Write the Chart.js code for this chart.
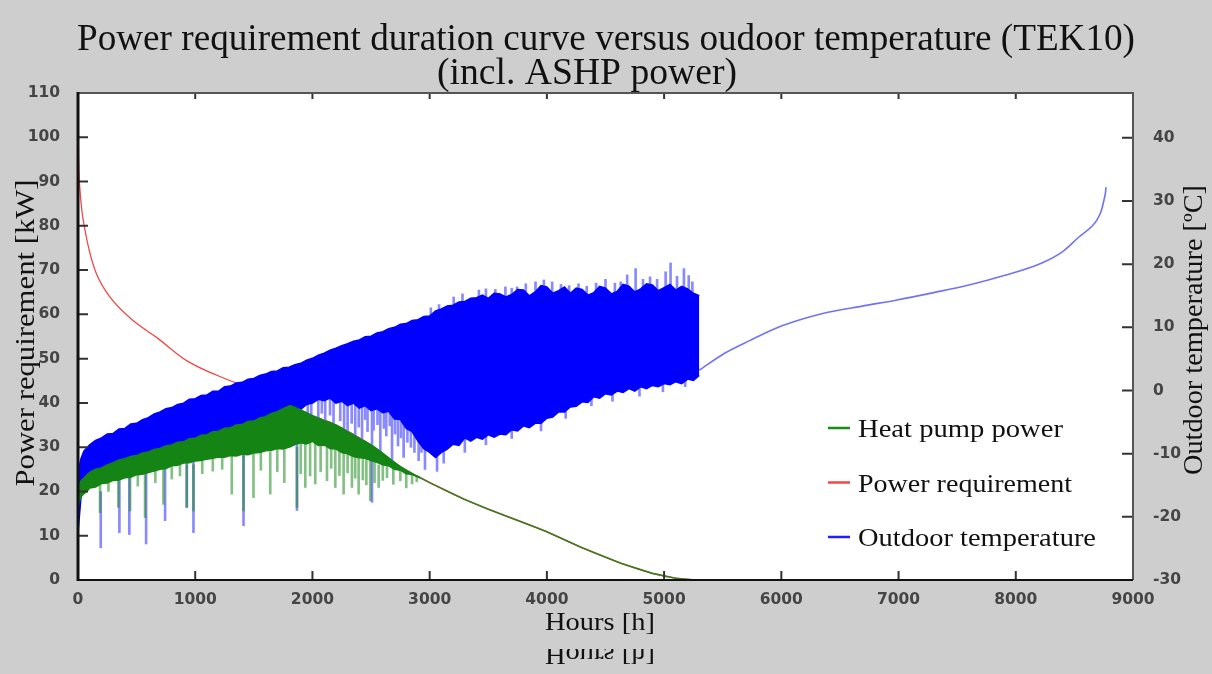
<!DOCTYPE html>
<html>
<head>
<meta charset="utf-8">
<script src="https://cdn.jsdelivr.net/npm/chart.js@4.4.0/dist/chart.umd.min.js"></script>
<style>
  html, body { margin: 0; padding: 0; background: #cecece; }
  #wrap { width: 1212px; height: 674px; position: relative; }
</style>
</head>
<body>
<div id="wrap"><canvas id="chart"></canvas></div>
<script>
// ---- data ----
const xTicks = [0, 1000, 2000, 3000, 4000, 5000, 6000, 7000, 8000, 9000];
const kwTicks = [0, 10, 20, 30, 40, 50, 60, 70, 80, 90, 100, 110];
const tempTicks = [-30, -20, -10, 0, 10, 20, 30, 40];

// power requirement duration curve [kW]
const reqHours = [0, 3, 8, 17, 35, 60, 100, 160, 270, 470, 670, 930, 1300, 1600, 1810, 2000, 2180, 2500, 2750, 2920, 3000, 3290, 3500, 3990, 4300, 4630, 4900, 5100, 5260];
const reqPower = [107, 98, 92, 88, 83, 79, 74, 69, 64, 58.6, 54.8, 49.5, 45, 42, 39.4, 37.1, 35.3, 30.5, 25.6, 23.1, 22.0, 18.3, 16.0, 11.0, 7.3, 3.8, 1.5, 0.4, 0];

// outdoor temperature, noisy part: upper / lower edge of the dense band [°C]
const tempHours = [0, 25, 50, 100, 150, 200, 250, 300, 350, 400, 450, 500, 550, 600, 650, 700, 750, 800, 850, 900, 950,
  1000, 1050, 1100, 1150, 1200, 1250, 1300, 1350, 1400, 1450, 1500, 1550, 1600, 1650, 1700, 1750, 1800, 1850, 1900, 1950,
  2000, 2050, 2100, 2150, 2200, 2250, 2300, 2350, 2400, 2450, 2500, 2550, 2600, 2650, 2700, 2750, 2800, 2850, 2900, 2950,
  3000, 3050, 3100, 3150, 3200, 3250, 3300, 3350, 3400, 3450, 3500, 3550, 3600, 3650, 3700, 3750, 3800, 3850, 3900, 3950,
  4000, 4050, 4100, 4150, 4200, 4250, 4300, 4350, 4400, 4450, 4500, 4550, 4600, 4650, 4700, 4750, 4800, 4850, 4900, 4950,
  5000, 5050, 5100, 5150, 5200, 5250, 5300];
const tempHigh = [-13, -10.8, -9.6, -8.6, -7.9, -7.5, -6.9, -6.8, -6.1, -6.0, -5.3, -5.2, -4.6, -4.3, -3.7, -3.4, -2.9, -2.7, -2.2, -2.0, -1.4,
  -1.3, -0.8, -0.7, -0.1, -0.1, 0.6, 0.7, 1.2, 1.3, 1.8, 1.9, 2.4, 2.6, 3.0, 3.1, 3.6, 3.7, 4.1, 4.3, 4.8,
  5.1, 5.6, 5.9, 6.4, 6.7, 7.1, 7.4, 7.8, 8.0, 8.5, 8.6, 9.1, 9.3, 9.8, 10.0, 10.5, 10.6, 11.1, 11.2, 11.7,
  11.8, 12.6, 12.9, 13.4, 13.5, 14.0, 14.1, 14.6, 14.7, 15.1, 14.6, 15.4, 15.3, 14.8, 15.2, 16.0, 15.9, 15.0, 15.6, 16.6,
  16.4, 15.4, 15.8, 16.4, 15.4, 16.2, 16.0, 15.1, 15.5, 16.5, 16.2, 15.3, 15.7, 16.8, 16.5, 15.6, 16.1, 16.9, 16.7, 15.8,
  16.3, 16.8, 15.9, 16.5, 16.1, 15.4, 15.0];
const tempLow = [-22.5, -17, -15.5, -14, -13.8, -13.5, -13.2, -13, -12.8, -12.5, -12.2, -12, -11.8, -11.5, -11.2, -11, -10.8, -10.5, -10.2, -10, -9.9,
  -9.8, -9.6, -9.5, -9.2, -9, -8.8, -8.6, -8.3, -8, -7.8, -7.5, -7.2, -7, -6.5, -6, -5.5, -5, -4, -3.0, -2.2,
  -2.0, -1.4, -1.6, -1.2, -2.0, -1.7, -2.4, -2.0, -2.8, -2.4, -3.2, -2.9, -3.5, -3.3, -4.5, -4.6, -6.0, -6.5, -8.0, -9.2,
  -9.8, -10.6, -9.8, -9.3, -8.5, -8.7, -7.5, -8.0, -7.4, -7.7, -7.0, -7.4, -6.9, -7.0, -6.2, -6.4, -5.6, -5.9, -5.2, -5.2,
  -4.4, -4.2, -3.4, -3.4, -2.6, -2.5, -1.8, -1.9, -1.0, -1.2, -0.5, -0.7, -0.1, -0.3, 0.3, -0.1, 0.6, 0.3, 0.8, 0.6,
  1.1, 0.9, 1.4, 1.1, 1.8, 1.6, 2.4];
// single light spikes [hour, low, high] [°C]
const tempSpikes = [
  [194, -24.9, -16], [353, -22.5, -14], [438, -22.8, -13], [581, -24.3, -12], [743, -20.6, -11],
  [928, -18.5, -10], [985, -22.5, -10], [1412, -21.4, -8], [1868, -19, -4],
  [1960, -4.8, -1.5], [1990, -6.0, -1.5], [2050, -4.5, -1.5], [2080, -3.6, -1.2], [2109, -5.5, -1.5], [2150, -3.9, -1.2],
  [2180, -6.8, -1.5], [2237, -4.8, -1.8], [2270, -6.1, -1.8], [2300, -8.5, -2], [2335, -5.2, -2], [2365, -7.4, -2.2],
  [2395, -5.8, -2.2], [2423, -9.5, -2.5], [2450, -4.6, -2.4], [2470, -6.5, -2.5], [2508, -17.7, -3], [2522, -6.3, -2.8],
  [2555, -5.4, -2.8], [2579, -9.8, -3], [2610, -6.0, -3], [2630, -7.2, -3], [2660, -5.6, -3.2], [2679, -11.0, -3.5],
  [2705, -6.9, -4], [2730, -8.8, -4], [2755, -7.5, -4.5], [2778, -10.6, -5], [2810, -8.2, -5.5], [2840, -9.0, -5.5],
  [2870, -9.8, -6.5], [2906, -11.1, -7], [2930, -9.8, -8], [2960, -12.5, -8], [3063, -12.8, -9], [3120, -11.5, -9],
  [3010, 9.5, 13.1], [3080, 10.5, 13.6], [3205, 12, 14.8], [3280, 12, 15.3], [3420, 13, 15.9], [3480, 13, 16.1],
  [3560, 13, 16.0], [3646, 14, 16.4], [3700, 13, 16.2], [3746, 14, 16.4], [3820, 14, 16.9], [3903, 14.5, 17.2],
  [3974, 15, 17.5], [4045, 15, 17.2], [4120, 14, 16.8], [4190, 14, 16.6], [4270, 14, 16.9], [4340, 14, 16.5],
  [4420, 14, 17.0], [4500, 15, 17.6], [4580, 14, 17.0], [4630, 14, 17.2], [4685, 15, 18.3], [4757, 15.5, 19.3],
  [4820, 15, 17.6], [4880, 15, 18.0], [4940, 15, 17.6], [5013, 15.5, 18.8], [5055, 15.5, 20.2], [5110, 15, 18.1],
  [5169, 15, 19.3], [5210, 15, 18.2], [5241, 14, 17.2],
  [3300, -9.8, -6], [3480, -8.6, -5], [3700, -7.6, -5], [3950, -6.4, -4], [4160, -4.4, -2.5], [4380, -2.4, -0.5],
  [4560, -1.7, 0], [4790, -0.9, 1], [4990, -0.2, 1.5], [5180, 0.6, 2]
];
// outdoor temperature, smooth part
const tempSmoothHours = [5300, 5516, 5730, 6000, 6353, 6700, 6977, 7300, 7600, 7900, 8223, 8400, 8539, 8650, 8693, 8730, 8753, 8765, 8770];
const tempSmooth = [3.2, 5.9, 7.9, 10.2, 12.2, 13.4, 14.3, 15.5, 16.7, 18.2, 20.2, 22.0, 24.3, 26.0, 27.0, 28.5, 30.2, 31.3, 32.2];

// heat pump power, noisy part: upper / lower edge of the band [kW]
const hpHours = [0, 10, 25, 50, 75, 100, 150, 200, 250, 300, 350, 400, 450, 500, 550, 600, 650, 700, 750, 800, 850, 900, 950,
  1000, 1050, 1100, 1150, 1200, 1250, 1300, 1350, 1400, 1450, 1500, 1550, 1600, 1650, 1700, 1750, 1810, 1850, 1900, 1950,
  2000, 2050, 2100, 2150, 2200, 2250, 2300, 2350, 2400, 2450, 2500, 2550, 2600, 2650, 2700, 2750, 2800, 2850, 2920];
const hpHigh = [20.1, 21.5, 22.4, 23.0, 23.7, 24.3, 25.0, 25.3, 26.0, 26.5, 27.1, 27.4, 27.9, 28.1, 28.7, 28.9, 29.5, 29.7, 30.3, 30.5, 31.1, 31.2, 31.9,
  32.0, 32.7, 32.8, 33.5, 33.6, 34.3, 34.4, 35.0, 35.1, 35.8, 35.9, 36.6, 36.9, 37.6, 38.0, 38.7, 39.4, 39.0, 38.4, 37.8,
  37.1, 36.6, 36.0, 35.6, 35.0, 34.3, 33.5, 32.8, 32.0, 31.3, 30.5, 29.6, 28.6, 27.6, 26.6, 25.6, 24.8, 24.0, 23.1];
const hpLow = [16.4, 17.5, 18.8, 19.5, 20.0, 20.8, 21.0, 21.8, 21.9, 22.5, 22.6, 23.1, 23.2, 23.8, 23.9, 24.3, 24.6, 25.0, 25.2, 25.8, 25.9, 26.4, 26.5,
  26.9, 27.0, 27.3, 27.5, 27.8, 27.7, 28.1, 28.0, 28.4, 28.3, 28.7, 28.8, 29.2, 29.3, 29.7, 29.6, 30.1, 30.6, 31.0, 30.7,
  31.3, 30.4, 30.5, 29.7, 29.6, 28.8, 28.5, 27.9, 27.6, 27.5, 27.0, 26.6, 26.0, 25.8, 25.0, 24.8, 24.0, 23.8, 23.1];
const hpSpikes = [
  [188, 15.2, 22], [260, 20.0, 23], [344, 16.4, 23], [444, 15.6, 23], [510, 21.2, 24], [572, 14.1, 24], [660, 22.0, 25],
  [729, 17.1, 25], [800, 22.8, 26], [870, 23.5, 26], [928, 16.4, 26], [985, 15.6, 26], [1060, 24.0, 27], [1150, 24.6, 27.5],
  [1230, 25.0, 28], [1312, 19.4, 28], [1412, 15.6, 28], [1497, 18.6, 28.5], [1560, 24.8, 29], [1640, 19.4, 29], [1700, 24.5, 29.5],
  [1760, 22.0, 30], [1868, 16.4, 30], [1900, 24.0, 31], [1939, 20.9, 31], [1980, 23.5, 31], [2024, 21.7, 31], [2070, 24.5, 30.5],
  [2124, 22.4, 30], [2160, 25.2, 30], [2195, 20.9, 29.5], [2230, 23.6, 29.5], [2266, 19.4, 29], [2300, 24.2, 29],
  [2337, 20.9, 28.5], [2365, 23.0, 28], [2394, 19.4, 27.5], [2430, 22.6, 27.5], [2460, 21.5, 27.5], [2494, 17.9, 27],
  [2530, 22.0, 27], [2565, 20.9, 26], [2600, 22.5, 26], [2636, 23.1, 26], [2690, 21.6, 25.5], [2750, 22.4, 25],
  [2800, 20.8, 24.5], [2850, 21.7, 24], [2890, 22.2, 23.5]
];
// heat pump power once it covers the whole demand
const hpTailHours = [2920, 3000, 3290, 3500, 3990, 4300, 4630, 4900, 5100, 5260];
const hpTail = [23.1, 22.0, 18.3, 16.0, 11.0, 7.3, 3.8, 1.5, 0.4, 0];

const legendItems = [
  { label: 'Heat pump power', color: '#1a8c1a', width: 205 },
  { label: 'Power requirement', color: '#f04848', width: 214 },
  { label: 'Outdoor temperature', color: '#2020ff', width: 238 }
];

// ---- helpers ----
function pts(xs, ys) { return xs.map((x, i) => ({ x: x, y: ys[i] })); }
function bars(list) { return list.map(s => ({ x: s[0], y: [s[1], s[2]] })); }

function fitText(ctx, text, x, y, width, font, align) {
  ctx.save();
  ctx.font = font;
  const w = ctx.measureText(text).width;
  ctx.translate(x, y);
  ctx.scale(width / w, 1);
  ctx.textAlign = align || 'center';
  ctx.fillText(text, 0, 0);
  ctx.restore();
}

const decor = {
  id: 'decor',
  beforeDraw(chart) {
    const ctx = chart.ctx, a = chart.chartArea;
    ctx.save();
    ctx.fillStyle = '#cecece';
    ctx.fillRect(0, 0, chart.width, chart.height);
    ctx.fillStyle = '#ffffff';
    ctx.fillRect(a.left, a.top, a.right - a.left, a.bottom - a.top);
    ctx.restore();
  },
  afterDatasetsDraw(chart) {
    const ctx = chart.ctx, a = chart.chartArea;
    const xs = chart.scales.x, y = chart.scales.y, y2 = chart.scales.y2;
    ctx.save();
    // tick marks pointing inwards
    ctx.strokeStyle = '#333';
    ctx.lineWidth = 2;
    ctx.beginPath();
    kwTicks.forEach(v => {
      const py = y.getPixelForValue(v);
      ctx.moveTo(a.left, py); ctx.lineTo(a.left + 10, py);
    });
    tempTicks.forEach(v => {
      const py = y2.getPixelForValue(v);
      ctx.moveTo(a.right, py); ctx.lineTo(a.right - 11, py);
    });
    xTicks.forEach(v => {
      const px = xs.getPixelForValue(v);
      ctx.moveTo(px, a.bottom); ctx.lineTo(px, a.bottom - 9);
      ctx.moveTo(px, a.top); ctx.lineTo(px, a.top + 6);
    });
    ctx.stroke();
    // frame
    ctx.strokeStyle = '#555';
    ctx.lineWidth = 2;
    ctx.beginPath();
    ctx.moveTo(a.left, a.top); ctx.lineTo(a.right, a.top); ctx.lineTo(a.right, a.bottom);
    ctx.stroke();
    ctx.strokeStyle = '#111';
    ctx.beginPath();
    ctx.moveTo(a.left, a.bottom); ctx.lineTo(a.right, a.bottom);
    ctx.stroke();
    ctx.lineWidth = 3;
    ctx.beginPath();
    ctx.moveTo(a.left, a.top - 1); ctx.lineTo(a.left, a.bottom + 1);
    ctx.stroke();
    ctx.restore();
  },
  afterDraw(chart) {
    const ctx = chart.ctx;
    const serif = '"Liberation Serif", "DejaVu Serif", serif';
    ctx.save();
    ctx.fillStyle = '#111';
    ctx.textBaseline = 'alphabetic';
    fitText(ctx, 'Power requirement duration curve versus oudoor temperature (TEK10)', 606, 50, 1058, '38px ' + serif);
    fitText(ctx, '(incl. ASHP power)', 587, 84, 300, '38px ' + serif);
    fitText(ctx, 'Hours [h]', 600, 630, 110, '26px ' + serif);

    // axis titles, both read bottom to top
    ctx.textBaseline = 'middle';
    ctx.save();
    ctx.translate(27, 333); ctx.rotate(-Math.PI / 2);
    fitText(ctx, 'Power requirement [kW]', 0, 0, 307, '27px ' + serif);
    ctx.restore();
    ctx.save();
    ctx.translate(1195, 330); ctx.rotate(-Math.PI / 2);
    fitText(ctx, 'Outdoor temperature [\u00baC]', 0, 0, 290, '27px ' + serif);
    ctx.restore();

    // mirrored leftover of the axis title at the bottom
    ctx.save();
    ctx.beginPath(); ctx.rect(0, 649, chart.width, 30); ctx.clip();
    ctx.translate(0, 645); ctx.scale(1, -1);
    ctx.textBaseline = 'alphabetic';
    fitText(ctx, 'Hours [h]', 600, -2, 110, '26px ' + serif);
    ctx.restore();

    // legend
    legendItems.forEach((it, i) => {
      const cy = 428 + i * 54.5;
      ctx.strokeStyle = it.color;
      ctx.lineWidth = 2.5;
      ctx.beginPath(); ctx.moveTo(828, cy); ctx.lineTo(850, cy); ctx.stroke();
      ctx.fillStyle = '#111';
      ctx.textBaseline = 'alphabetic';
      fitText(ctx, it.label, 858, cy + 9, it.width, '25px ' + serif, 'left');
    });
    ctx.restore();
  }
};

const tickFont = { family: '"DejaVu Sans", sans-serif', size: 15.5, weight: 'bold' };

new Chart(document.getElementById('chart'), {
  type: 'line',
  data: {
    datasets: [
      { label: 'Power requirement', data: pts(reqHours, reqPower), yAxisID: 'y',
        borderColor: '#f04848', borderWidth: 1.3, cubicInterpolationMode: 'monotone', order: 7 },
      { label: 'temp spikes', type: 'bar', data: bars(tempSpikes), yAxisID: 'y2',
        backgroundColor: '#8a8aff', barThickness: 2, grouped: false, order: 6 },
      { label: 'Outdoor temperature', data: pts(tempHours, tempHigh), yAxisID: 'y2',
        borderColor: '#0000ff', backgroundColor: '#0000ff', borderWidth: 1.5, fill: '+1', order: 5 },
      { label: 'temp low', data: pts(tempHours, tempLow), yAxisID: 'y2',
        borderColor: '#0000ff', borderWidth: 1.5, order: 5 },
      { label: 'temp smooth', data: pts(tempSmoothHours, tempSmooth), yAxisID: 'y2',
        borderColor: '#7272f4', borderWidth: 1.6, cubicInterpolationMode: 'monotone', order: 5 },
      { label: 'hp spikes', type: 'bar', data: bars(hpSpikes), yAxisID: 'y',
        backgroundColor: 'rgba(30,140,30,0.55)', barThickness: 2, grouped: false, order: 4 },
      { label: 'Heat pump power', data: pts(hpHours, hpHigh), yAxisID: 'y',
        borderColor: '#148414', backgroundColor: '#148414', borderWidth: 1.5, fill: '+1', order: 3 },
      { label: 'hp low', data: pts(hpHours, hpLow), yAxisID: 'y',
        borderColor: '#148414', borderWidth: 1.5, order: 3 },
      { label: 'hp tail', data: pts(hpTailHours, hpTail), yAxisID: 'y',
        borderColor: '#3d7a22', borderWidth: 1.6, order: 2 }
    ]
  },
  options: {
    responsive: true,
    maintainAspectRatio: false,
    animation: false,
    layout: { padding: { top: 93, left: 0, right: 0, bottom: 0 } },
    elements: { point: { radius: 0 }, line: { tension: 0 } },
    plugins: {
      legend: { display: false },
      title: { display: false },
      tooltip: { enabled: false }
    },
    scales: {
      x: {
        type: 'linear', min: 0, max: 9000, offset: false,
        ticks: { stepSize: 1000, padding: 3, color: '#454545', font: tickFont, maxRotation: 0, callback: v => String(v) },
        grid: { display: false, offset: false }, border: { display: false },
        afterFit: s => { s.height = 94; }
      },
      y: {
        type: 'linear', position: 'left', min: 0, max: 110,
        ticks: { stepSize: 10, padding: 10, color: '#454545', font: tickFont },
        grid: { display: false }, border: { display: false },
        afterFit: s => { s.width = 78; }
      },
      y2: {
        type: 'linear', position: 'right', min: -30, max: 47.1,
        ticks: { stepSize: 10, includeBounds: false, padding: 12, color: '#454545', font: tickFont },
        grid: { display: false }, border: { display: false },
        afterFit: s => { s.width = 79; }
      }
    }
  },
  plugins: [decor]
});
</script>
</body>
</html>
